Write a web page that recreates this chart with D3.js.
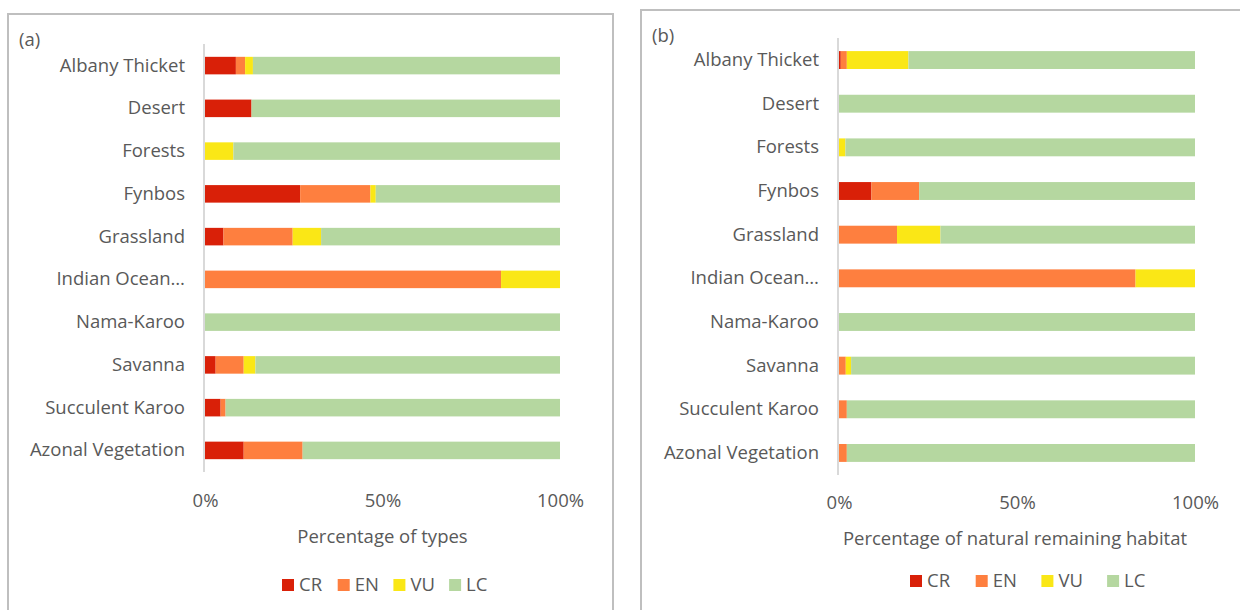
<!DOCTYPE html>
<html>
<head>
<meta charset="utf-8">
<script src="https://cdn.jsdelivr.net/npm/d3@7"></script>
<style>
  body { margin: 0; background: #fff; }
  text { font-family: "Open Sans", Lato, sans-serif; fill: #595959; }
</style>
</head>
<body>
<div id="chart"></div>
<script>
// biomes, top to bottom
const biomes = ['Albany Thicket', 'Desert', 'Forests', 'Fynbos', 'Grassland',
    'Indian Ocean Coastal Belt', 'Nama-Karoo', 'Savanna', 'Succulent Karoo', 'Azonal Vegetation'];
const statuses = ['CR', 'EN', 'VU', 'LC'];
const statusColors = ['#d92008', '#fe7f3f', '#fae716', '#b5d7a0'];
const tickValues = [0, 0.5, 1];

// (a) percentage of types (%)
const typesCR = [8.7, 13.1, 0, 26.8, 5.2, 0, 0, 3.0, 4.4, 10.9];
const typesEN = [2.6, 0, 0, 19.8, 19.5, 83.4, 0, 7.9, 1.4, 16.6];
const typesVU = [2.2, 0, 8.0, 1.5, 8.0, 16.6, 0, 3.3, 0, 0];

// (b) percentage of natural remaining habitat (%)
const habCR = [0.5, 0, 0, 9.1, 0, 0, 0, 0, 0, 0];
const habEN = [1.7, 0, 0, 13.4, 16.3, 83.3, 0, 1.9, 2.2, 2.2];
const habVU = [17.3, 0, 1.8, 0, 12.2, 16.7, 0, 1.5, 0, 0];

const fontSize = '18.5px';

function rows(cr, en, vu) {
    return biomes.map((b, i) => ({
        biome: b,
        CR: cr[i] / 100,
        EN: en[i] / 100,
        VU: vu[i] / 100,
        LC: (100 - cr[i] - en[i] - vu[i]) / 100
    }));
}

const svg = d3.select('#chart').append('svg')
    .attr('width', 1240)
    .attr('height', 610);

const color = d3.scaleOrdinal().domain(statuses).range(statusColors);

function panel(opts) {
    const data = rows(opts.cr, opts.en, opts.vu);

    // outer frame
    svg.append('rect')
        .attr('x', opts.frame[0]).attr('y', opts.frame[1])
        .attr('width', opts.frame[2]).attr('height', opts.frame[3])
        .style('fill', 'none')
        .style('stroke', '#bfbfbf')
        .style('stroke-width', 2);

    svg.append('text')
        .attr('x', opts.frame[0] + 11)
        .attr('y', opts.frame[1] + 32)
        .style('font-size', fontSize)
        .text(opts.tag);

    const x = d3.scaleLinear().domain([0, 1]).range([opts.left, opts.right]);
    const y = d3.scaleBand().domain(biomes).range([opts.top, opts.bottom]).paddingInner(0.59).paddingOuter(0.3);

    const stack = d3.stack().keys(statuses)(data);

    svg.append('g')
        .selectAll('g')
        .data(stack)
        .enter().append('g')
        .style('fill', d => color(d.key))
        .selectAll('rect')
        .data(d => d)
        .enter().append('rect')
        .attr('x', d => x(d[0]))
        .attr('y', d => y(d.data.biome))
        .attr('width', d => x(d[1]) - x(d[0]))
        .attr('height', y.bandwidth());

    // category axis
    const yAxis = svg.append('g')
        .attr('transform', `translate(${opts.left - 1},0)`)
        .call(d3.axisLeft(y).tickSize(0).tickPadding(19)
            .tickFormat(d => d.length > 18 ? 'Indian Ocean…' : d));
    yAxis.select('.domain')
        .attr('d', `M0,${opts.top}V${opts.bottom}`)
        .style('stroke', '#d9d9d9')
        .style('stroke-width', 2);
    yAxis.selectAll('text')
        .style('font-size', fontSize)
        .style('fill', '#595959');

    // value axis
    const xAxis = svg.append('g')
        .attr('transform', `translate(0,${opts.tickY})`)
        .call(d3.axisBottom(x).tickValues(tickValues).tickSize(0).tickPadding(0)
            .tickFormat(d3.format('.0%')));
    xAxis.select('.domain').remove();
    xAxis.selectAll('text')
        .attr('dy', '0.35em')
        .style('font-size', fontSize)
        .style('fill', '#595959');

    svg.append('text')
        .attr('x', (opts.left + opts.right) / 2 + opts.titleShift)
        .attr('y', opts.tickY + 36)
        .attr('dy', '0.35em')
        .style('text-anchor', 'middle')
        .style('font-size', fontSize)
        .text(opts.title);

    // legend
    const legend = svg.append('g')
        .attr('transform', `translate(${opts.legendX},${opts.legendY})`);
    const item = legend.selectAll('g')
        .data(statuses)
        .enter().append('g')
        .attr('transform', (d, i) => `translate(${i * opts.legendStep},0)`);
    item.append('rect')
        .attr('x', 0).attr('y', -6)
        .attr('width', 12).attr('height', 12)
        .style('fill', d => color(d));
    item.append('text')
        .attr('x', 17)
        .attr('dy', '0.35em')
        .style('font-size', fontSize)
        .text(d => d);
}

panel({
    tag: '(a)', frame: [8, 14, 605, 610],
    cr: typesCR, en: typesEN, vu: typesVU,
    left: 205, right: 560, top: 44, bottom: 472,
    tickY: 501, title: 'Percentage of types', titleShift: 0,
    legendX: 282, legendY: 585, legendStep: 55.7
});

panel({
    tag: '(b)', frame: [641, 10, 620, 610],
    cr: habCR, en: habEN, vu: habVU,
    left: 839, right: 1195, top: 38, bottom: 475,
    tickY: 503, title: 'Percentage of natural remaining habitat', titleShift: -2,
    legendX: 910, legendY: 581, legendStep: 65.7
});
</script>
</body>
</html>
